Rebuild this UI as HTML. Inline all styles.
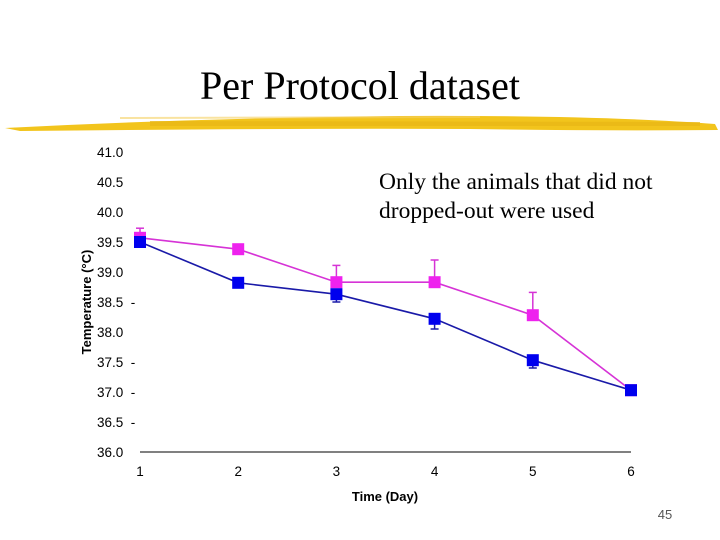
<!DOCTYPE html>
<html><head><meta charset="utf-8"><style>
body{margin:0;background:#fff;width:720px;height:540px;overflow:hidden}
svg{display:block}
</style></head><body>
<svg width="720" height="540" font-family="Liberation Sans, sans-serif">
<text x="360" y="99" text-anchor="middle" font-family="Liberation Serif, serif" font-size="40">Per Protocol dataset</text>
<g>
<path d="M5,128 Q200,118 400,116 Q600,115 715,124 L718,130 Q600,131 470,129 Q300,128 20,131 Z" fill="#f2c41c"/>
<path d="M150,121 L700,122 L700,126 L150,126Z" fill="#e8b616" opacity="0.7"/>
<path d="M120,117 L480,116 L480,118 L120,119Z" fill="#f5d060" opacity="0.6"/>
</g>
<text x="379" y="189" font-family="Liberation Serif, serif" font-size="23.5">Only the animals that did not</text>
<text x="379" y="218" font-family="Liberation Serif, serif" font-size="23.5">dropped-out were used</text>
<text transform="translate(91,302) rotate(-90)" text-anchor="middle" font-size="13" font-weight="bold">Temperature (°C)</text>
<text x="385" y="501" text-anchor="middle" font-size="13" font-weight="bold">Time (Day)</text>
<text x="665" y="519" text-anchor="middle" font-size="13" fill="#555">45</text>
<g id="chart"></g>
</svg>
<script>
const days=[1,2,3,4,5,6];
const yTicks=["41.0","40.5","40.0","39.5","39.0","38.5  -","38.0","37.5  -","37.0  -","36.5  -","36.0"];
const blueVals=[39.5,38.82,38.63,38.22,37.53,37.03];
const blueErr=[0,0,0.13,0.17,0.13,0];
const pinkVals=[39.57,39.38,38.83,38.83,38.28,37.03];
const pinkErr=[0.16,0,0.28,0.37,0.38,0];
const NS="http://www.w3.org/2000/svg";
const g=document.getElementById('chart');
const xS=d=>140+(d-1)*98.2;
const yS=v=>452-(v-36)*60;
function mk(t,a){const e=document.createElementNS(NS,t);for(const k in a)e.setAttribute(k,a[k]);g.appendChild(e);return e;}
yTicks.forEach((t,i)=>{const v=41-i*0.5;const e=mk('text',{x:97,y:yS(v)+5,'font-size':13.5});e.textContent=t;
e.setAttribute('xml:space','preserve');e.style.whiteSpace='pre';

});
const ax=mk('line',{x1:140,y1:452,x2:631,y2:452,stroke:'#000','stroke-width':1});


days.forEach(d=>{const e=mk('text',{x:xS(d),y:476,'font-size':13.5,'text-anchor':'middle'});e.textContent=d;

});
function series(vals,err,col,lineCol,name,dir){
 vals.forEach((v,i)=>{if(err[i]>0){const y2=yS(v+dir*err[i]);
  const l=mk('line',{x1:xS(days[i]),y1:yS(v),x2:xS(days[i]),y2:y2,stroke:lineCol,'stroke-width':1.5});
  
  
  const c=mk('line',{x1:xS(days[i])-4,y1:y2,x2:xS(days[i])+4,y2:y2,stroke:lineCol,'stroke-width':1.5});
  
  }});
 const p=mk('polyline',{points:vals.map((v,i)=>xS(days[i])+','+yS(v)).join(' '),fill:'none',stroke:lineCol,'stroke-width':1.6});
 
 
 vals.forEach((v,i)=>{const r=mk('rect',{x:xS(days[i])-6,y:yS(v)-6,width:12,height:12,fill:col});
  
  });
}
series(pinkVals,pinkErr,'#ee22ee','#d633d6','pink-series',1);
series(blueVals,blueErr,'#0000ee','#1a1aa8','blue-series',-1);
</script>
</body></html>
